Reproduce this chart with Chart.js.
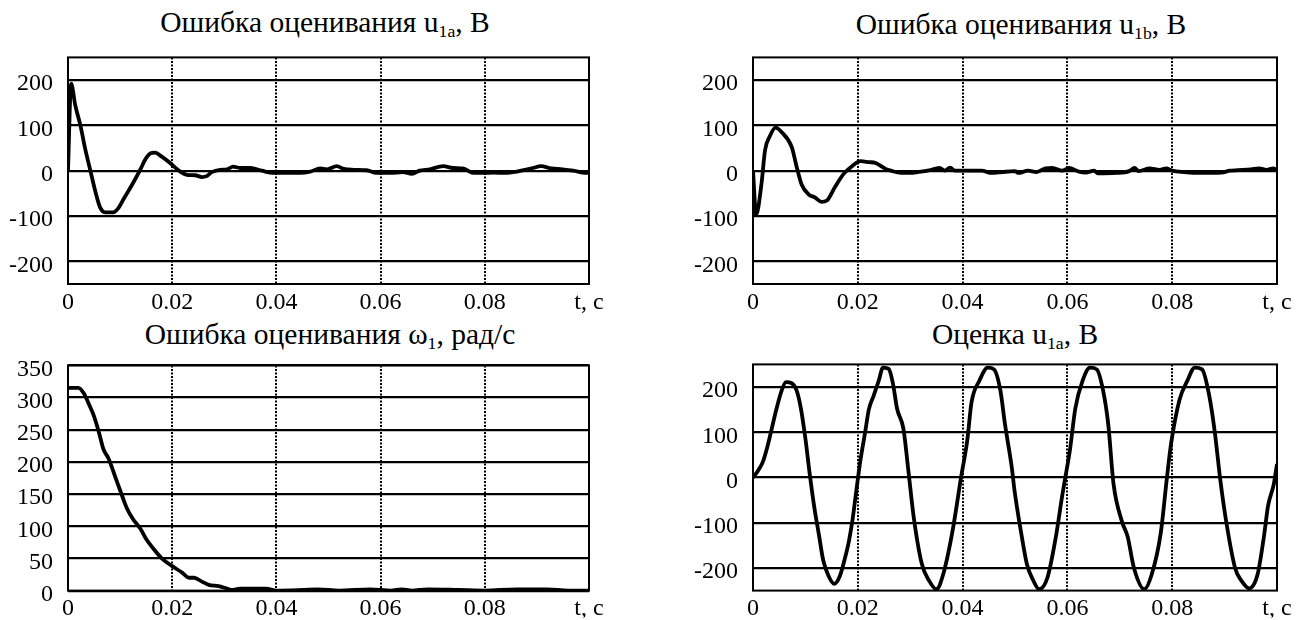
<!DOCTYPE html>
<html>
<head>
<meta charset="utf-8">
<script src="https://cdn.jsdelivr.net/npm/chart.js@4.4.1/dist/chart.umd.min.js"></script>
<style>
body { margin: 0; background: #fff; width: 1296px; height: 620px; overflow: hidden; position: relative; font-family: "Liberation Serif", serif; }
.box { position: absolute; }
.ttl { position: absolute; width: 500px; text-align: center; font-size: 29.5px; line-height: 30px; color: #000; white-space: nowrap; }
.ttl sub { font-size: 0.6em; vertical-align: baseline; position: relative; top: 0.3em; line-height: 0; }
</style>
</head>
<body>
<div class="ttl" style="left:75px;top:7px">Ошибка оценивания u<sub>1a</sub>, В</div>
<div class="ttl" style="left:771px;top:9px">Ошибка оценивания u<sub>1b</sub>, В</div>
<div class="ttl" style="left:80px;top:319px">Ошибка оценивания ω<sub>1</sub>, рад/с</div>
<div class="ttl" style="left:765px;top:319px">Оценка u<sub>1a</sub>, В</div>

<div class="box" style="left:0;top:28px;width:611px;height:292px"><canvas id="c1"></canvas></div>
<div class="box" style="left:685px;top:28px;width:611px;height:292px"><canvas id="c2"></canvas></div>
<div class="box" style="left:0;top:336px;width:611px;height:284px"><canvas id="c3"></canvas></div>
<div class="box" style="left:685px;top:335px;width:611px;height:285px"><canvas id="c4"></canvas></div>

<script>
// time axis, seconds
const xTickLabels = ['0', '0.02', '0.04', '0.06', '0.08', 't, c'];
const yTicksU = [-200, -100, 0, 100, 200];
const yTicksW = [0, 50, 100, 150, 200, 250, 300, 350];

// Ошибка оценивания u1a
const tU1aErr = [0, 0.0006, 0.0014, 0.0024, 0.0033, 0.0043, 0.0053, 0.0062, 0.0072, 0.0087,
    0.0097, 0.0107, 0.0123, 0.0139, 0.0148, 0.0158, 0.0167, 0.018, 0.0196, 0.0212,
    0.0228, 0.0244, 0.0257, 0.0266, 0.0276, 0.0292, 0.0305, 0.0317, 0.033, 0.035,
    0.0372, 0.0394, 0.042, 0.0445, 0.0465, 0.0484, 0.0497, 0.0516, 0.0529, 0.0548,
    0.0573, 0.0592, 0.0618, 0.0643, 0.066, 0.0675, 0.0694, 0.072, 0.0739, 0.0758,
    0.0778, 0.0797, 0.0816, 0.0842, 0.0861, 0.089, 0.0908, 0.0927, 0.0949, 0.097,
    0.0993, 0.1];
const u1aErr = [0, 192, 144, 99, 48, 0, -48, -82, -92, -92,
    -82, -62, -31, 3, 24, 38, 40, 31, 17, 1,
    -9, -10, -14, -12, -3, 2, 3, 9, 6, 6,
    0, -5, -5, -5, -2, 5, 3, 10, 4, 2,
    1, -5, -5, -3, -7, 0, 3, 10, 6, 5,
    -5, -5, -4, -5, -2, 5, 10, 5, 3, 0,
    -5, -5];

// Ошибка оценивания u1b
const tU1bErr = [0, 0.0006, 0.0016, 0.0023, 0.0032, 0.0043, 0.0054, 0.0074, 0.0083, 0.0093,
    0.0106, 0.0118, 0.0131, 0.0141, 0.0157, 0.0173, 0.0189, 0.0205, 0.0221, 0.0234,
    0.0253, 0.0263, 0.0283, 0.0302, 0.0314, 0.0333, 0.0356, 0.0366, 0.0376, 0.0385,
    0.0436, 0.0456, 0.0475, 0.05, 0.0506, 0.0525, 0.0541, 0.0558, 0.0571, 0.059,
    0.0603, 0.0622, 0.0635, 0.0651, 0.0658, 0.0693, 0.0718, 0.0728, 0.0736, 0.0757,
    0.0776, 0.0789, 0.08, 0.0823, 0.0855, 0.0894, 0.091, 0.095, 0.0966, 0.098,
    0.0993, 0.1];
const u1bErr = [0, -97, -31, 45, 76, 95, 86, 52, 10, -31,
    -52, -59, -69, -66, -35, -7, 10, 21, 19, 17,
    4, 0, -5, -5, -3, 0, 6, 0, 7, 0,
    0, -5, -3, -1, -5, 0, -3, 5, 6, 0,
    6, -2, -4, 0, -6, -5, -1, 6, -1, 5,
    2, 5, 0, -3, -5, -4, 0, 3, 5, 2,
    5, 2];

// Ошибка оценивания omega1
const tWErr = [0, 0.002, 0.003, 0.004, 0.0049, 0.0059, 0.0068, 0.0078, 0.0091, 0.0104,
    0.0113, 0.0124, 0.0139, 0.0151, 0.0164, 0.018, 0.02, 0.0219, 0.0232, 0.0242,
    0.0257, 0.027, 0.0289, 0.0302, 0.0314, 0.033, 0.038, 0.04, 0.045, 0.048,
    0.052, 0.058, 0.062, 0.064, 0.066, 0.069, 0.075, 0.08, 0.086, 0.092,
    0.096, 0.1];
const wErr = [315, 315, 307, 290, 273, 247, 220, 205, 176, 147,
    128, 112, 96, 79, 65, 50, 38, 28, 20, 20,
    14, 9, 7, 4, 1, 3, 3, 0, 1, 2,
    0, 2, 0, 2, 0, 2, 1, 0, 2, 2,
    0, 0];

// Оценка u1a
const tU1aEst = [0, 0.0009, 0.0019, 0.0027, 0.0035, 0.0044, 0.0054, 0.0063, 0.0073, 0.0083,
    0.0091, 0.01, 0.0108, 0.0117, 0.0126, 0.0134, 0.0144, 0.0155, 0.0166, 0.0176,
    0.0183, 0.019, 0.0197, 0.0205, 0.0214, 0.0221, 0.023, 0.024, 0.0248, 0.0259,
    0.0267, 0.0275, 0.0287, 0.0297, 0.0307, 0.0322, 0.0336, 0.035, 0.0363, 0.0381,
    0.0397, 0.0409, 0.0417, 0.0432, 0.0448, 0.046, 0.0472, 0.0481, 0.0494, 0.0499,
    0.0511, 0.0523, 0.0535, 0.0546, 0.0562, 0.0578, 0.059, 0.0596, 0.0605, 0.0615,
    0.0629, 0.0643, 0.0656, 0.0668, 0.0678, 0.0688, 0.0704, 0.0715, 0.0727, 0.0747,
    0.0761, 0.0778, 0.079, 0.0798, 0.0814, 0.0829, 0.0843, 0.0857, 0.0871, 0.0881,
    0.0892, 0.0904, 0.092, 0.0932, 0.0947, 0.0963, 0.0975, 0.0983, 0.0994, 0.1];
const u1aEst = [0, 14, 35, 66, 104, 148, 190, 211, 209, 193,
    155, 86, 10, -66, -128, -183, -217, -235, -217, -176,
    -141, -93, -31, 38, 100, 150, 180, 214, 243, 240,
    208, 152, 108, 10, -90, -190, -228, -247, -214, -117,
    0, 83, 166, 214, 243, 239, 193, 117, 21, -28,
    -117, -193, -228, -247, -221, -131, -41, 0, 62, 152,
    214, 243, 239, 193, 117, -14, -97, -131, -200, -247,
    -214, -124, 0, 76, 172, 214, 243, 239, 179, 103,
    -7, -104, -200, -228, -245, -214, -131, -62, -14, 30];

Chart.defaults.font.family = '"Liberation Serif", "Times New Roman", serif';
Chart.defaults.font.size = 24;
Chart.defaults.color = '#000';

const framePlugin = {
    id: 'frame',
    afterDraw(chart) {
        const a = chart.chartArea;
        const ctx = chart.ctx;
        ctx.save();
        ctx.strokeStyle = '#000';
        ctx.lineWidth = 2;
        ctx.strokeRect(a.left, a.top, a.right - a.left, a.bottom - a.top);
        ctx.restore();
    }
};

function makeChart(id, xs, ys, yMin, yMax, yTicks, xAxisHeight, padRight) {
    const pts = xs.map((x, i) => ({ x: x, y: ys[i] }));
    return new Chart(document.getElementById(id), {
        type: 'line',
        data: {
            datasets: [{
                data: pts,
                borderColor: '#000',
                borderWidth: 3.8,
                pointRadius: 0,
                cubicInterpolationMode: 'monotone',
                fill: false
            }]
        },
        options: {
            responsive: true,
            maintainAspectRatio: false,
            animation: false,
            layout: { padding: { top: 14, right: padRight, left: 0, bottom: 0 } },
            plugins: { legend: { display: false }, tooltip: { enabled: false }, title: { display: false } },
            scales: {
                x: {
                    type: 'linear',
                    min: 0,
                    max: 0.1,
                    ticks: {
                        stepSize: 0.02,
                        padding: 4,
                        maxRotation: 0,
                        autoSkip: false,
                        callback: (v, i) => xTickLabels[i]
                    },
                    grid: { color: '#000', lineWidth: 2, drawTicks: false },
                    border: { display: false, dash: [2, 1.5] },
                    afterFit: s => { s.height = xAxisHeight; }
                },
                y: {
                    min: yMin,
                    max: yMax,
                    afterBuildTicks: s => { s.ticks = yTicks.map(v => ({ value: v })); },
                    ticks: {
                        padding: 15,
                        labelOffset: 4,
                        autoSkip: false,
                        callback: v => String(v)
                    },
                    grid: { color: '#000', lineWidth: 2.2, drawTicks: false },
                    border: { display: false },
                    afterFit: s => { s.width = 68; }
                }
            }
        },
        plugins: [framePlugin]
    });
}

makeChart('c1', tU1aErr, u1aErr, -250, 250, yTicksU, 36, 22);
makeChart('c2', tU1bErr, u1bErr, -250, 250, yTicksU, 36, 19);
makeChart('c3', tWErr, wErr, 0, 350, yTicksW, 27, 22);
makeChart('c4', tU1aEst, u1aEst, -250, 250, yTicksU, 27, 19);
</script>
</body>
</html>
